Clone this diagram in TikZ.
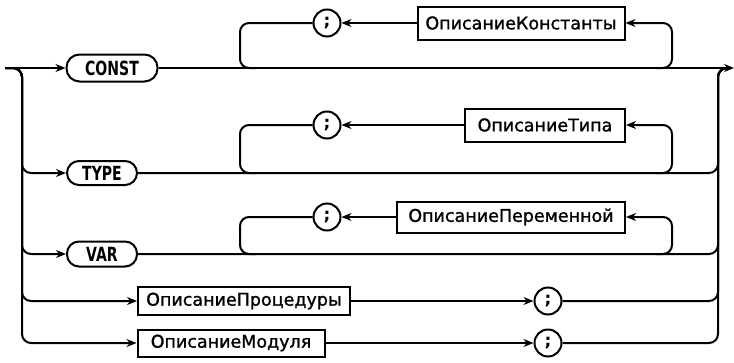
\documentclass[tikz,border=0pt]{standalone}
\usepackage{fontspec}
\setmainfont{DejaVu Sans}
\newfontfamily\ntfont[FakeBold=1.2]{DejaVu Sans}
\newfontfamily\kwfont[FakeStretch=0.72]{DejaVu Sans Bold}
\usetikzlibrary{arrows.meta,calc}
\begin{document}
\begin{tikzpicture}[x=1pt,y=-1pt, line width=2pt,
  arr/.style={-{Stealth[length=10pt,width=8pt]}},
  rc/.style={rounded corners=9pt},
  kw/.style={draw, inner sep=0pt, font=\kwfont\fontsize{19.5}{19.5}\selectfont},
  nt/.style={draw, inner sep=0pt, font=\ntfont\fontsize{17.5}{18}\selectfont},
  sep/.style={draw, circle, inner sep=0pt, minimum size=27pt, font=\bfseries\fontsize{17}{17}\selectfont}]
\useasboundingbox (0,0) rectangle (734,362);
% rows
\node[kw, rounded corners=13pt, minimum width=91pt, minimum height=27pt] (const) at (112,68) {CONST};
\node[kw, rounded corners=12pt, minimum width=70pt, minimum height=24pt] (type) at (102,173) {TYPE};
\node[kw, rounded corners=12pt, minimum width=70pt, minimum height=25pt] (var) at (102,254) {VAR};
\node[nt, minimum width=212pt, minimum height=28pt] (proc) at (244,301) {ОписаниеПроцедуры};
\node[nt, minimum width=187pt, minimum height=27pt] (mod) at (231,343) {ОписаниеМодуля};
\node[sep] (s4) at (548,301) {;};
\node[sep] (s5) at (548,343) {;};
% loops
\node[nt, minimum width=207pt, minimum height=33pt] (kc) at (521,23) {ОписаниеКонстанты};
\node[nt, minimum width=160pt, minimum height=33pt] (kt) at (545,125) {ОписаниеТипа};
\node[nt, minimum width=228pt, minimum height=31pt] (kv) at (511,217) {ОписаниеПеременной};
\node[sep] (s1) at (327,23) {;};
\node[sep] (s2) at (327,125) {;};
\node[sep] (s3) at (327,217) {;};
% coordinates
\coordinate (in) at (5,68);
\coordinate (out) at (734,68);
\coordinate (L) at (22,68);
\coordinate (R) at (718,68);
\coordinate (RT) at (728,68);
\coordinate (lx) at (240,0);
\coordinate (rx) at (672,0);
% entry and exit
\draw[arr] (in) -- (const.west);
\draw[arr] (const.east) -- (out);
\foreach \n in {type,var,proc,mod}{
  \draw[arr, rc] (in) -| (L |- \n.west) -- (\n.west);
}
\draw[rc] (type.east) -| (R) -- (RT);
\draw[rc] (var.east) -| (R) -- (RT);
\draw[arr] (proc.east) -- (s4.west);
\draw[arr] (mod.east) -- (s5.west);
\draw[rc] (s4.east) -| (R) -- (RT);
\draw[rc] (s5.east) -| (R) -- (RT);
% repetition loops
\foreach \row/\bx/\semi in {const/kc/s1, type/kt/s2, var/kv/s3}{
  \draw[arr, rc] ($(rx |- \row.east)+(-16,0)$) -| (rx |- \bx.east) -- (\bx.east);
  \draw[arr] (\bx.west) -- (\semi.east);
  \draw[rc] (\semi.west) -| (lx |- \row.east) -- ($(lx |- \row.east)+(16,0)$);
}
\end{tikzpicture}
\end{document}
